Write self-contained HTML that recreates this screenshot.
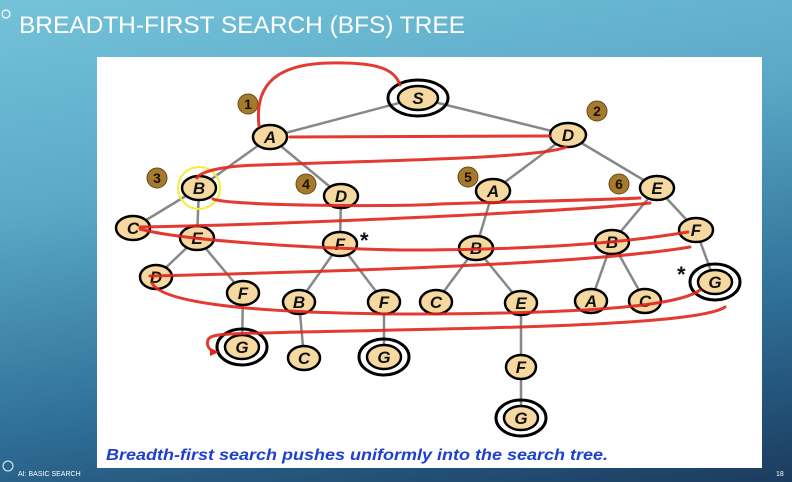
<!DOCTYPE html>
<html><head><meta charset="utf-8"><style>
html,body{margin:0;padding:0;width:792px;height:482px;overflow:hidden}
body{background:linear-gradient(170deg,#74c3da 0%,#5aa8c6 35%,#2f6f98 70%,#1b3b5e 100%)}
svg{position:absolute;left:0;top:0}
</style></head><body>
<svg width="792" height="482" viewBox="0 0 792 482" xmlns="http://www.w3.org/2000/svg" font-family="Liberation Sans, sans-serif">
<circle cx="6" cy="14" r="4" fill="none" stroke="#fff" stroke-width="1.2"/>
<text x="19" y="33" fill="#fff" font-size="24" textLength="446" lengthAdjust="spacingAndGlyphs">BREADTH-FIRST SEARCH (BFS) TREE</text>
<rect x="97" y="57" width="665" height="411" fill="#fff"/>
<g stroke="#888" stroke-width="2.5">
<line x1="418" y1="98" x2="270" y2="137"/><line x1="418" y1="98" x2="568" y2="135"/>
<line x1="270" y1="137" x2="199" y2="188"/><line x1="270" y1="137" x2="341" y2="196"/>
<line x1="199" y1="188" x2="133" y2="228"/><line x1="199" y1="188" x2="197" y2="238"/>
<line x1="197" y1="238" x2="156" y2="277"/><line x1="197" y1="238" x2="243" y2="293"/>
<line x1="243" y1="293" x2="242" y2="347"/>
<line x1="341" y1="196" x2="340" y2="244"/><line x1="340" y1="244" x2="299" y2="302"/><line x1="340" y1="244" x2="384" y2="302"/>
<line x1="299" y1="302" x2="304" y2="358"/><line x1="384" y1="302" x2="384" y2="357"/>
<line x1="568" y1="135" x2="493" y2="191"/><line x1="568" y1="135" x2="657" y2="188"/>
<line x1="493" y1="191" x2="476" y2="248"/><line x1="476" y1="248" x2="436" y2="302"/><line x1="476" y1="248" x2="521" y2="303"/>
<line x1="521" y1="303" x2="521" y2="418"/>
<line x1="657" y1="188" x2="612" y2="242"/><line x1="657" y1="188" x2="696" y2="230"/>
<line x1="612" y1="242" x2="591" y2="301"/><line x1="612" y1="242" x2="645" y2="301"/>
<line x1="696" y1="230" x2="715" y2="282"/>
</g>
<g fill="none" stroke="#000" stroke-width="3">
<ellipse cx="418" cy="98" rx="30" ry="18"/>
<ellipse cx="715" cy="282" rx="25" ry="18"/>
<ellipse cx="242" cy="347" rx="25" ry="18"/>
<ellipse cx="384" cy="357" rx="25" ry="18"/>
<ellipse cx="521" cy="418" rx="25" ry="18"/>
</g>
<circle cx="199" cy="188" r="21" fill="none" stroke="#f2ee3a" stroke-width="2"/>
<g fill="#f6d9a0" stroke="#000" stroke-width="2.5">
<ellipse cx="418" cy="98" rx="20" ry="12"/>
<ellipse cx="270" cy="137" rx="17" ry="12"/><ellipse cx="568" cy="135" rx="18" ry="12"/>
<ellipse cx="199" cy="188" rx="17" ry="12"/><ellipse cx="341" cy="196" rx="17" ry="12"/>
<ellipse cx="493" cy="191" rx="17" ry="12"/><ellipse cx="657" cy="188" rx="17" ry="12"/>
<ellipse cx="133" cy="228" rx="17" ry="12"/><ellipse cx="197" cy="238" rx="17" ry="12"/>
<ellipse cx="340" cy="244" rx="17" ry="12"/><ellipse cx="476" cy="248" rx="17" ry="12"/>
<ellipse cx="612" cy="242" rx="17" ry="12"/><ellipse cx="696" cy="230" rx="17" ry="12"/>
<ellipse cx="156" cy="277" rx="16" ry="12"/><ellipse cx="243" cy="293" rx="16" ry="12"/>
<ellipse cx="299" cy="302" rx="16" ry="12"/><ellipse cx="384" cy="302" rx="16" ry="12"/>
<ellipse cx="436" cy="302" rx="16" ry="12"/><ellipse cx="521" cy="303" rx="16" ry="12"/>
<ellipse cx="591" cy="301" rx="16" ry="12"/><ellipse cx="645" cy="301" rx="16" ry="12"/>
<ellipse cx="715" cy="282" rx="17" ry="12"/>
<ellipse cx="242" cy="347" rx="17" ry="12"/><ellipse cx="304" cy="358" rx="16" ry="12"/>
<ellipse cx="384" cy="357" rx="17" ry="12"/><ellipse cx="521" cy="367" rx="15" ry="12"/>
<ellipse cx="521" cy="418" rx="17" ry="12"/>
</g>
<g font-size="17" font-weight="bold" font-style="italic" text-anchor="middle" fill="#111">
<text x="418" y="104">S</text>
<text x="270" y="143">A</text><text x="568" y="141">D</text>
<text x="199" y="194">B</text><text x="341" y="202">D</text>
<text x="493" y="197">A</text><text x="657" y="194">E</text>
<text x="133" y="234">C</text><text x="197" y="244">E</text>
<text x="340" y="250">F</text><text x="476" y="254">B</text>
<text x="612" y="248">B</text><text x="696" y="236">F</text>
<text x="156" y="283">D</text><text x="243" y="299">F</text>
<text x="299" y="308">B</text><text x="384" y="308">F</text>
<text x="436" y="308">C</text><text x="521" y="309">E</text>
<text x="591" y="307">A</text><text x="645" y="307">C</text>
<text x="715" y="288">G</text>
<text x="242" y="353">G</text><text x="304" y="364">C</text>
<text x="384" y="363">G</text><text x="521" y="373">F</text>
<text x="521" y="424">G</text>
</g>
<g font-size="22" font-weight="bold" fill="#111">
<text x="360" y="248">*</text><text x="677" y="282">*</text>
</g>
<g fill="#a57a2e" stroke="#6a4a14" stroke-width="1">
<circle cx="248" cy="104" r="10"/><circle cx="597" cy="111" r="10"/>
<circle cx="157" cy="178" r="10"/><circle cx="306" cy="184" r="10"/>
<circle cx="468" cy="177" r="10"/><circle cx="619" cy="184" r="10"/>
</g>
<g font-size="14" font-weight="bold" text-anchor="middle" fill="#1a1000">
<text x="248" y="109">1</text><text x="597" y="116">2</text>
<text x="157" y="183">3</text><text x="306" y="189">4</text>
<text x="468" y="182">5</text><text x="619" y="189">6</text>
</g>
<g fill="none" stroke="#e0261c" stroke-width="3" stroke-linecap="round" opacity="0.9">
<path d="M259 126 C255 90 270 64 330 63 C380 62 395 70 400 85"/>
<path d="M290 137 L550 136"/>
<path d="M566 147 C540 158 400 160 260 165 C220 166 200 172 197 178"/>
<path d="M213 199 C230 206 400 207 440 204 C500 202 600 200 640 198"/>
<path d="M650 203 C560 212 300 224 140 227"/>
<path d="M140 229 C180 240 300 248 400 250 C560 250 640 240 688 232"/>
<path d="M690 247 C600 262 400 270 150 276"/>
<path d="M152 283 C160 300 230 313 400 314 C600 314 680 305 700 290"/>
<path d="M725 307 C700 325 500 328 300 332 C230 334 210 333 208 340 C206 346 210 350 214 352"/>
</g>
<polygon points="210,348 219,352 210,356" fill="#e0261c"/>
<text x="106" y="460" font-size="16" font-weight="bold" font-style="italic" fill="#1f3fd0" textLength="502" lengthAdjust="spacingAndGlyphs">Breadth-first search pushes uniformly into the search tree.</text>
<circle cx="8" cy="466" r="5" fill="none" stroke="#dfe" stroke-width="1"/>
<text x="18" y="476" font-size="7" fill="#fff">AI: BASIC SEARCH</text>
<text x="776" y="476" font-size="7" fill="#fff">18</text>
</svg>
</body></html>
